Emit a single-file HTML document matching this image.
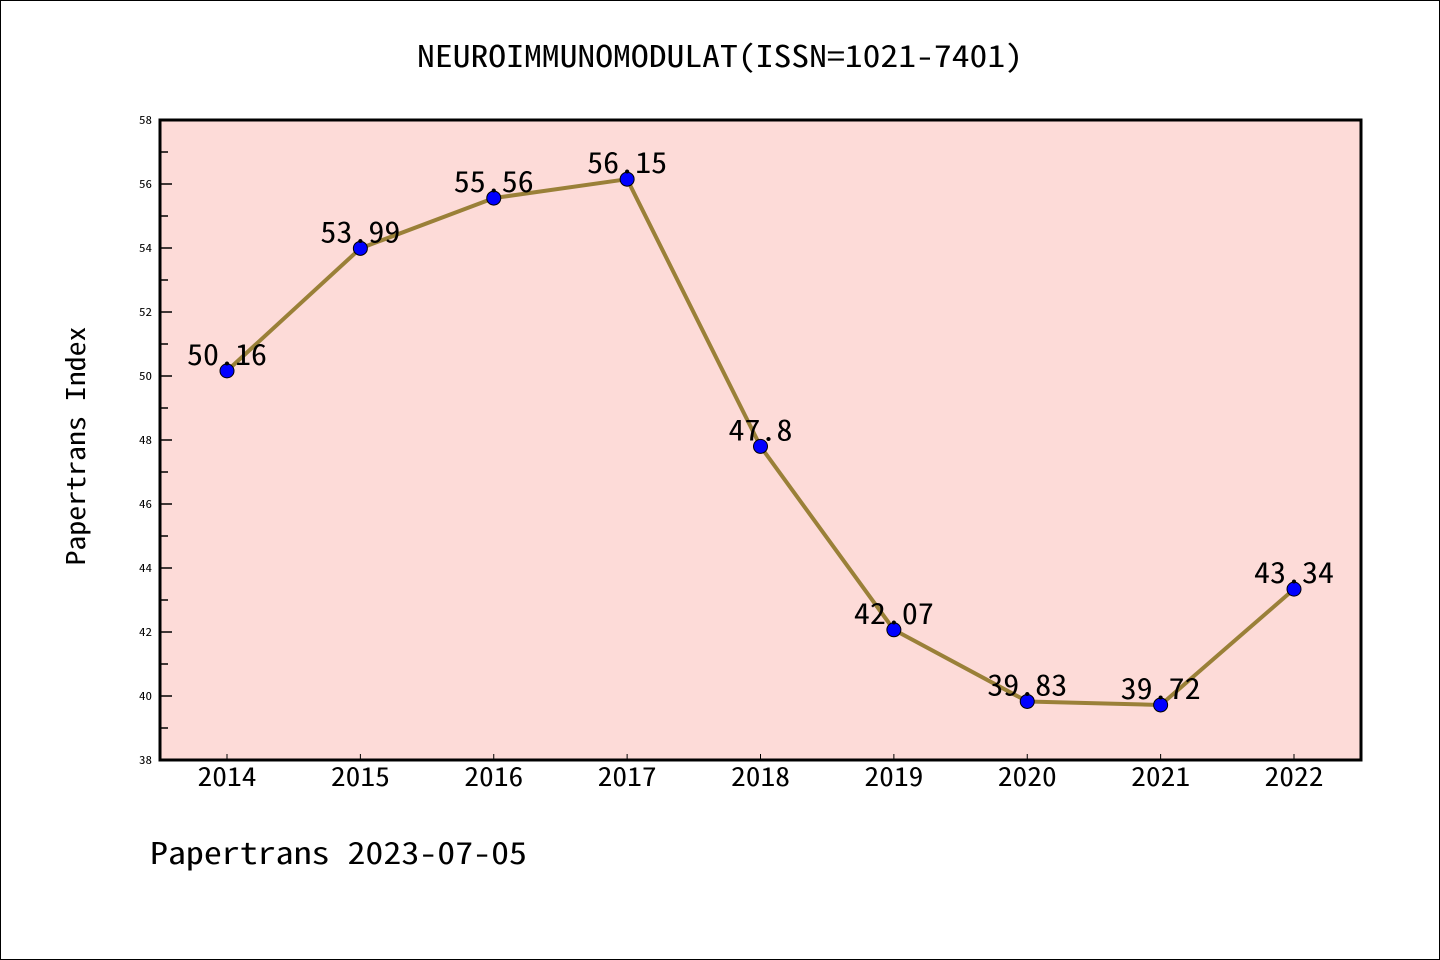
<!DOCTYPE html>
<html><head><meta charset="utf-8"><style>
body{margin:0;background:#fff;}
svg{display:block;font-family:"WenQuanYi Zen Hei Mono","Noto Sans Mono CJK SC","DejaVu Sans Mono",monospace;}
</style></head><body>
<svg id="c" width="1440" height="960">
<rect x="0.5" y="0.5" width="1439" height="959" fill="#fff" stroke="#000" stroke-width="1"/>
<text x="720" y="67" font-size="30" text-anchor="middle" textLength="606" lengthAdjust="spacingAndGlyphs">NEUROIMMUNOMODULAT(ISSN=1021-7401)</text>
<rect x="160" y="120" width="1201" height="640" fill="#fddbd8"/>
<g id="g"></g>
<rect x="160" y="120" width="1201" height="640" fill="none" stroke="#000" stroke-width="3"/>
<text transform="translate(85,446) rotate(-90)" font-size="26" text-anchor="middle" textLength="239" lengthAdjust="spacingAndGlyphs">Papertrans Index</text>
<text x="150" y="864" font-size="30" textLength="377" lengthAdjust="spacingAndGlyphs">Papertrans 2023-07-05</text>
</svg>
<script>
const years=["2014","2015","2016","2017","2018","2019","2020","2021","2022"];
const values=[50.16,53.99,55.56,56.15,47.8,42.07,39.83,39.72,43.34];
const labels=["50.16","53.99","55.56","56.15","47.8","42.07","39.83","39.72","43.34"];
const yTicks=[38,40,42,44,46,48,50,52,54,56,58];
const NS="http://www.w3.org/2000/svg";
const g=document.getElementById('g');
const yMin=38,yMax=58,pTop=120,pBot=760;
const y=v=>pBot-(v-yMin)/(yMax-yMin)*(pBot-pTop);
const x=i=>227+i*(1294-227)/(years.length-1);
function mk(t,a){const e=document.createElementNS(NS,t);for(const k in a)e.setAttribute(k,a[k]);g.appendChild(e);return e;}
yTicks.forEach((v,i)=>{
 const l=mk('line',{x1:160,x2:172,y1:y(v),y2:y(v),stroke:'#000','stroke-width':1.5});
 
 
 const t=mk('text',{x:152,y:y(v)+4,'font-size':11,'text-anchor':'end',textLength:13,lengthAdjust:'spacingAndGlyphs'});
 t.textContent=v;
 
 
 if(i<yTicks.length-1){
  const m=mk('line',{x1:160,x2:168,y1:y(v+1),y2:y(v+1),stroke:'#000','stroke-width':1.5});
  
  
 }
});
years.forEach((yr,i)=>{
 const l=mk('line',{x1:x(i),x2:x(i),y1:pBot,y2:pBot-6,stroke:'#000','stroke-width':1});
 
 
 const t=mk('text',{x:x(i),y:786,'font-size':26,'text-anchor':'middle',textLength:59,lengthAdjust:'spacingAndGlyphs'});
 t.textContent=yr;
 
 
});
const p=mk('polyline',{points:values.map((v,i)=>x(i)+','+y(v)).join(' '),fill:'none',stroke:'#9a8038','stroke-width':4,'stroke-linejoin':'round'});


values.forEach((v,i)=>{
 const c=mk('circle',{cx:x(i),cy:y(v),r:7,fill:'#0000ff',stroke:'#000','stroke-width':1});
 
 
 const t=mk('text',{x:x(i),y:y(v)-6,'font-size':29,'text-anchor':'middle',textLength:labels[i].length*16,lengthAdjust:'spacingAndGlyphs'});
 t.textContent=labels[i];
 
 
});
</script>
</body></html>
